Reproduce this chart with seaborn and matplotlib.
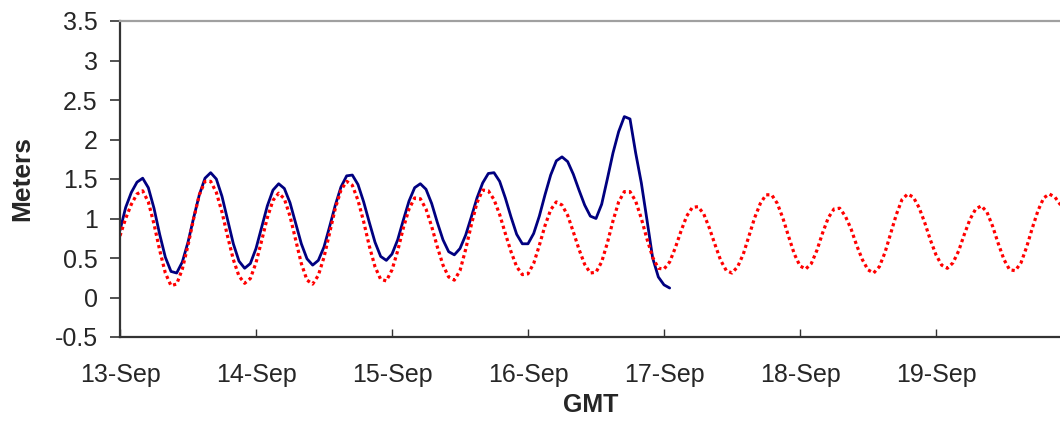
import pandas as pd
import matplotlib
matplotlib.use("Agg")
import matplotlib.pyplot as plt
import matplotlib.ticker as mticker
import seaborn as sns

# Niveau d'eau horaire (m), a partir du 13-Sep 00:00 GMT
observed = [
    0.85, 1.14, 1.33, 1.46, 1.51, 1.39, 1.13, 0.80, 0.51, 0.33, 0.31, 0.45,
    0.70, 1.01, 1.30, 1.51, 1.58, 1.50, 1.28, 0.98, 0.68, 0.46, 0.37, 0.43,
    0.62, 0.89, 1.16, 1.36, 1.44, 1.38, 1.20, 0.94, 0.68, 0.49, 0.41, 0.47,
    0.64, 0.90, 1.17, 1.40, 1.54, 1.55, 1.43, 1.21, 0.95, 0.70, 0.52, 0.47,
    0.55, 0.73, 0.98, 1.22, 1.39, 1.44, 1.37, 1.19, 0.95, 0.73, 0.58, 0.54,
    0.62, 0.79, 1.02, 1.26, 1.45, 1.57, 1.58, 1.47, 1.26, 1.02, 0.80, 0.68,
    0.68, 0.81, 1.03, 1.30, 1.55, 1.73, 1.78, 1.72, 1.56, 1.36, 1.17, 1.03,
    1.00, 1.18, 1.50, 1.83, 2.10, 2.29, 2.26, 1.83, 1.45, 0.98, 0.50, 0.26,
    0.16, 0.12,
]

predicted = [
    0.78, 1.00, 1.18, 1.31, 1.35, 1.21, 0.93, 0.60, 0.31, 0.15, 0.17, 0.36,
    0.66, 1.00, 1.30, 1.47, 1.47, 1.33, 1.08, 0.77, 0.48, 0.27, 0.18, 0.24,
    0.44, 0.72, 1.01, 1.23, 1.32, 1.25, 1.03, 0.73, 0.43, 0.22, 0.17, 0.28,
    0.51, 0.82, 1.13, 1.36, 1.47, 1.42, 1.23, 0.96, 0.65, 0.39, 0.23, 0.21,
    0.35, 0.59, 0.88, 1.12, 1.26, 1.25, 1.12, 0.90, 0.64, 0.41, 0.26, 0.22,
    0.34, 0.61, 0.92, 1.20, 1.36, 1.35, 1.24, 1.05, 0.81, 0.58, 0.39, 0.29,
    0.30, 0.43, 0.66, 0.91, 1.11, 1.21, 1.17, 1.04, 0.83, 0.61, 0.42, 0.31,
    0.32, 0.45, 0.69, 0.97, 1.21, 1.34, 1.34, 1.22, 1.00, 0.74, 0.51, 0.37,
    0.36, 0.45, 0.63, 0.84, 1.03, 1.14, 1.15, 1.06, 0.88, 0.67, 0.47, 0.34,
    0.31, 0.39, 0.55, 0.78, 1.01, 1.19, 1.30, 1.30, 1.19, 1.00, 0.77, 0.55,
    0.40, 0.36, 0.43, 0.60, 0.82, 1.01, 1.12, 1.13, 1.03, 0.87, 0.66, 0.48,
    0.35, 0.31, 0.39, 0.57, 0.81, 1.05, 1.24, 1.31, 1.27, 1.14, 0.95, 0.73,
    0.54, 0.41, 0.37, 0.44, 0.59, 0.80, 0.99, 1.12, 1.16, 1.08, 0.90, 0.68,
    0.48, 0.35, 0.34, 0.44, 0.64, 0.88, 1.10, 1.26, 1.31, 1.27, 1.17, 1.02,
    0.82,
]

start = "2005-09-13 00:00"
end = "2005-09-20 00:00"
day_labels = ["13-Sep", "14-Sep", "15-Sep", "16-Sep", "17-Sep", "18-Sep", "19-Sep"]
y_ticks = [-0.5, 0, 0.5, 1, 1.5, 2, 2.5, 3, 3.5]

obs_df = pd.DataFrame({
    "time": pd.date_range(start, periods=len(observed), freq="h"),
    "level": observed,
})
pred_df = pd.DataFrame({
    "time": pd.date_range(start, periods=len(predicted), freq="h"),
    "level": predicted,
})
day_ticks = pd.date_range(start, periods=len(day_labels), freq="D")

sns.set_style("white")
plt.rcParams["font.family"] = ["Liberation Sans", "DejaVu Sans"]

fig = plt.figure(figsize=(10.6, 4.21), dpi=100)
# l'axe depasse a droite : le 20-Sep tombe hors de l'image, comme sur l'original
ax = fig.add_axes([120 / 1060, 1 - 337 / 421, 952 / 1060, 316 / 421])

sns.lineplot(data=obs_df, x="time", y="level", ax=ax, color="#000080",
             linewidth=2.0)
sns.lineplot(data=pred_df, x="time", y="level", ax=ax, color="#FF0000",
             linewidth=2.3, linestyle=(0, (1, 1)))

ax.set_xlim(pd.Timestamp(start), pd.Timestamp(end))
ax.set_ylim(-0.5, 3.5)
ax.set_yticks(y_ticks)
ax.yaxis.set_major_formatter(mticker.FuncFormatter(lambda v, p: f"{v:g}"))
ax.set_xticks(day_ticks)
ax.set_xticklabels(day_labels)
ax.set_xlabel("")
ax.set_ylabel("")

ax.tick_params(axis="y", direction="out", length=7, width=1.2,
               color="#333333", labelsize=18, pad=9, left=True)
ax.tick_params(axis="x", direction="in", length=6, width=1.0,
               color="#333333", labelsize=18, pad=19, bottom=True)

for side in ["left", "bottom"]:
    ax.spines[side].set_color("#333333")
    ax.spines[side].set_linewidth(1.6)
ax.spines["top"].set_color("#a0a0a0")
ax.spines["top"].set_linewidth(1.6)
ax.spines["right"].set_visible(False)

fig.text(591 / 1060, 1 - 405 / 421, "GMT", ha="center", va="center",
         fontsize=18, fontweight="bold")
fig.text(22 / 1060, 1 - 178 / 421, "Meters", ha="center", va="center",
         rotation=90, fontsize=19, fontweight="bold")

fig.savefig("out.png", dpi=100)
